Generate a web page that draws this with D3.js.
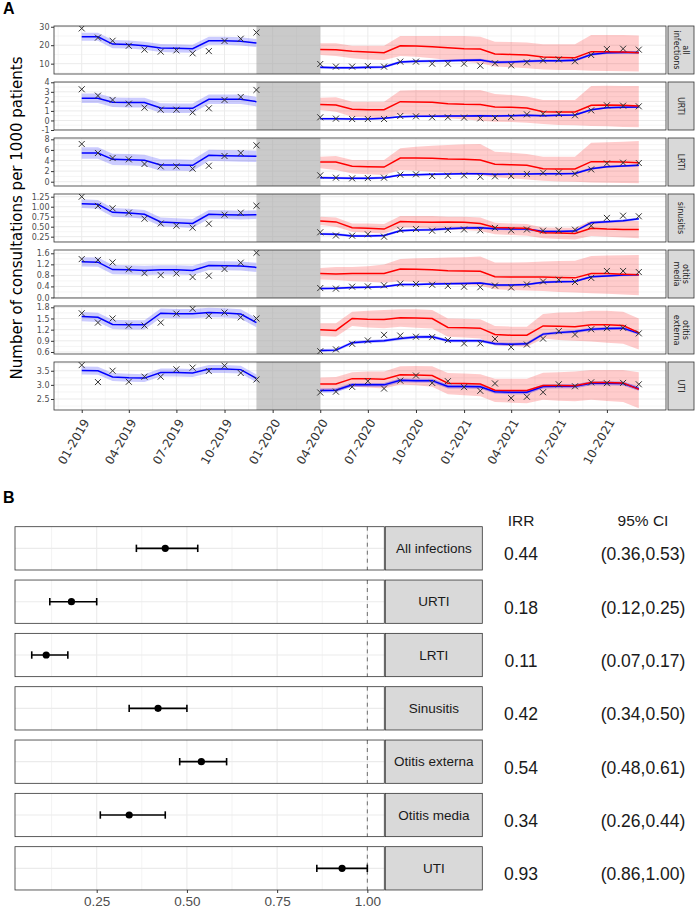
<!DOCTYPE html>
<html>
<head>
<meta charset="utf-8">
<script src="https://cdn.jsdelivr.net/npm/d3@7"></script>
<style>
  body { margin: 0; background: #fff; }
  svg { display: block; }
</style>
</head>
<body>
<div id="chart"></div>
<script>
// ---- panel A data ----
var panelNames = [["all", "infections"], ["URTI"], ["LRTI"], ["sinusitis"], ["otitis", "media"], ["otitis", "externa"], ["UTI"]];
var preStart = "2019-01", preEnd = "2019-12", postStart = "2020-04", postEnd = "2021-12";
var gapStart = "2019-12", gapEnd = "2020-04";

var yDomains = [[4.4, 30.4], [-1.0, 4.03], [-0.81, 8.25], [0.117, 1.318], [-0.02, 1.72], [0.546, 1.835], [2.11, 3.81]];
var yTicks = [[10, 20, 30], [-1, 0, 1, 2, 3, 4], [0, 2, 4, 6, 8], [0.25, 0.5, 0.75, 1, 1.25], [0, 0.4, 0.8, 1.2, 1.6], [0.6, 0.9, 1.2, 1.5, 1.8], [2.5, 3, 3.5]];
var yTickLabels = [["10", "20", "30"], ["-1", "0", "1", "2", "3", "4"], ["0", "2", "4", "6", "8"],
    ["0.25", "0.50", "0.75", "1.00", "1.25"], ["0.0", "0.4", "0.8", "1.2", "1.6"], ["0.6", "0.9", "1.2", "1.5", "1.8"], ["2.5", "3.0", "3.5"]];

var preObs = [
    [29.1, 24.1, 22.4, 19.7, 17.6, 16.5, 17.2, 15.6, 16.8, 22.3, 23.5, 26.9],
    [3.27, 2.6, 2.15, 1.76, 1.34, 1.13, 1.13, 0.85, 1.27, 2.15, 2.46, 3.2],
    [7.12, 5.42, 4.47, 4.22, 3.34, 2.9, 2.9, 2.46, 3.02, 4.85, 5.42, 6.87],
    [1.25, 1.02, 0.96, 0.85, 0.7, 0.58, 0.525, 0.475, 0.575, 0.8, 0.85, 1.025],
    [1.39, 1.36, 1.27, 1.02, 0.88, 0.81, 0.87, 0.74, 0.79, 1.03, 1.26, 1.62],
    [1.64, 1.39, 1.5, 1.31, 1.31, 1.39, 1.63, 1.76, 1.57, 1.66, 1.53, 1.5],
    [3.7, 3.1, 3.5, 3.11, 3.29, 3.29, 3.55, 3.61, 3.49, 3.68, 3.42, 3.19]
];
var preFit = [
    [24.6, 24.6, 20.6, 20.4, 19.7, 18.5, 18.3, 18.1, 22.4, 22.4, 22.1, 21.2],
    [2.32, 2.32, 1.9, 1.87, 1.87, 1.31, 1.27, 1.27, 2.22, 2.22, 2.22, 1.97],
    [5.42, 5.42, 4.22, 4.16, 4.03, 3.15, 3.15, 3.09, 4.98, 4.91, 4.85, 4.79],
    [1.075, 1.06, 0.86, 0.84, 0.81, 0.62, 0.6, 0.58, 0.81, 0.8, 0.79, 0.8],
    [1.29, 1.28, 1.01, 1.0, 0.98, 1.0, 1.0, 0.98, 1.16, 1.15, 1.14, 1.09],
    [1.55, 1.53, 1.34, 1.33, 1.33, 1.64, 1.63, 1.63, 1.66, 1.65, 1.62, 1.39],
    [3.51, 3.5, 3.28, 3.25, 3.24, 3.44, 3.44, 3.42, 3.56, 3.56, 3.54, 3.23]
];
var preBand = [2.2, 0.5, 1.07, 0.11, 0.165, 0.125, 0.14];

var postObs = [
    [9.8, 8.4, 8.4, 8.7, 8.4, 11.1, 11.1, 10.0, 10.0, 10.0, 8.9, 10.2, 9.1, 10.7, 11.8, 12.3, 11.3, 14.7, 17.9, 18.1, 17.6],
    [0.33, 0.19, 0.15, 0.15, 0.15, 0.47, 0.43, 0.33, 0.33, 0.3, 0.22, 0.26, 0.36, 0.64, 0.71, 0.68, 0.54, 1.06, 1.59, 1.55, 1.48],
    [1.2, 0.76, 0.63, 0.69, 0.76, 1.32, 1.39, 1.07, 1.13, 1.2, 0.94, 1.01, 1.07, 1.45, 1.7, 1.7, 1.51, 2.33, 3.46, 3.59, 3.53],
    [0.36, 0.28, 0.275, 0.31, 0.25, 0.42, 0.44, 0.4, 0.42, 0.43, 0.41, 0.47, 0.41, 0.43, 0.4, 0.41, 0.425, 0.525, 0.72, 0.775, 0.76],
    [0.34, 0.32, 0.39, 0.4, 0.44, 0.5, 0.49, 0.46, 0.42, 0.39, 0.37, 0.43, 0.36, 0.47, 0.58, 0.64, 0.56, 0.71, 0.96, 0.96, 0.92],
    [0.62, 0.67, 0.82, 0.91, 1.06, 1.04, 1.01, 1.0, 0.92, 0.83, 0.83, 0.95, 0.73, 0.8, 0.96, 1.16, 1.07, 1.21, 1.24, 1.25, 1.1],
    [2.73, 2.76, 2.93, 3.13, 2.87, 3.15, 3.33, 3.07, 3.13, 2.92, 2.79, 3.05, 2.53, 2.58, 2.74, 3.02, 2.95, 3.09, 3.06, 3.07, 3.02]
];
var postFit = [
    [8.0, 7.8, 7.8, 8.0, 8.2, 10.9, 11.3, 11.4, 11.6, 11.8, 12.0, 10.7, 10.9, 11.3, 11.6, 11.6, 11.8, 15.0, 15.9, 16.1, 16.1],
    [0.19, 0.19, 0.15, 0.15, 0.22, 0.4, 0.43, 0.43, 0.47, 0.47, 0.5, 0.47, 0.5, 0.54, 0.5, 0.54, 0.57, 1.13, 1.34, 1.38, 1.41],
    [0.76, 0.69, 0.63, 0.63, 0.76, 1.26, 1.32, 1.39, 1.45, 1.51, 1.51, 1.39, 1.45, 1.45, 1.51, 1.51, 1.57, 2.46, 2.83, 2.96, 3.09],
    [0.32, 0.31, 0.27, 0.27, 0.28, 0.4, 0.42, 0.425, 0.45, 0.47, 0.475, 0.45, 0.44, 0.44, 0.38, 0.38, 0.39, 0.6, 0.625, 0.65, 0.7],
    [0.32, 0.33, 0.36, 0.37, 0.39, 0.47, 0.47, 0.49, 0.5, 0.51, 0.52, 0.45, 0.45, 0.47, 0.55, 0.57, 0.58, 0.75, 0.78, 0.81, 0.82],
    [0.64, 0.65, 0.85, 0.88, 0.9, 0.96, 1.0, 1.01, 0.9, 0.9, 0.9, 0.82, 0.81, 0.82, 1.08, 1.12, 1.15, 1.21, 1.23, 1.24, 1.1],
    [2.8, 2.81, 3.0, 3.0, 3.0, 3.16, 3.15, 3.15, 2.94, 2.94, 2.93, 2.76, 2.74, 2.74, 2.94, 2.95, 2.95, 3.06, 3.06, 3.05, 2.86]
];
var postBand = [0.7, 0.1, 0.2, 0.03, 0.04, 0.04, 0.07];

var cfFit = [
    [17.7, 17.6, 16.7, 16.3, 15.9, 19.7, 19.5, 19.2, 18.6, 18.1, 17.9, 15.2, 15.0, 14.7, 13.6, 13.4, 13.2, 16.5, 16.5, 16.3, 15.9],
    [1.66, 1.62, 1.17, 1.13, 1.13, 1.97, 1.94, 1.9, 1.76, 1.69, 1.66, 1.41, 1.38, 1.31, 0.92, 0.89, 0.89, 1.59, 1.62, 1.59, 1.52],
    [3.72, 3.72, 2.9, 2.83, 2.77, 4.47, 4.47, 4.41, 4.28, 4.22, 4.09, 3.28, 3.21, 3.09, 2.46, 2.39, 2.39, 3.78, 3.78, 3.72, 3.59],
    [0.64, 0.62, 0.475, 0.46, 0.44, 0.63, 0.62, 0.61, 0.62, 0.61, 0.58, 0.48, 0.47, 0.46, 0.35, 0.34, 0.33, 0.46, 0.44, 0.43, 0.43],
    [0.87, 0.85, 0.87, 0.87, 0.87, 1.03, 1.02, 1.0, 0.97, 0.96, 0.95, 0.75, 0.74, 0.74, 0.74, 0.72, 0.71, 0.87, 0.87, 0.84, 0.82],
    [1.2, 1.18, 1.5, 1.48, 1.47, 1.52, 1.51, 1.5, 1.26, 1.25, 1.24, 1.07, 1.05, 1.05, 1.3, 1.29, 1.28, 1.33, 1.33, 1.31, 1.12],
    [3.03, 3.03, 3.22, 3.22, 3.2, 3.36, 3.35, 3.33, 3.06, 3.05, 3.03, 2.81, 2.8, 2.8, 2.98, 2.98, 2.97, 3.08, 3.08, 3.07, 2.84]
];
var cfHi = [
    [21.0, 21.0, 19.7, 19.7, 19.7, 25.0, 25.0, 25.0, 25.0, 25.0, 24.6, 21.9, 21.7, 21.4, 20.5, 20.5, 20.5, 25.5, 25.5, 25.5, 25.3],
    [2.39, 2.43, 1.97, 1.97, 1.97, 3.13, 3.2, 3.2, 3.2, 3.2, 3.2, 2.78, 2.67, 2.5, 2.15, 2.15, 2.15, 3.62, 3.65, 3.62, 3.62],
    [4.72, 4.85, 4.09, 4.09, 4.09, 6.3, 6.61, 6.8, 6.93, 7.06, 7.12, 5.67, 5.48, 5.23, 4.72, 4.72, 4.72, 7.37, 7.43, 7.56, 7.69],
    [0.75, 0.73, 0.58, 0.58, 0.57, 0.77, 0.77, 0.77, 0.75, 0.75, 0.73, 0.6, 0.58, 0.57, 0.48, 0.475, 0.475, 0.65, 0.65, 0.65, 0.64],
    [1.07, 1.1, 1.1, 1.13, 1.19, 1.39, 1.42, 1.43, 1.45, 1.46, 1.48, 1.27, 1.27, 1.28, 1.3, 1.32, 1.33, 1.5, 1.52, 1.53, 1.54],
    [1.37, 1.37, 1.68, 1.71, 1.73, 1.75, 1.75, 1.73, 1.5, 1.49, 1.48, 1.3, 1.28, 1.28, 1.62, 1.66, 1.67, 1.71, 1.71, 1.68, 1.5],
    [3.26, 3.28, 3.45, 3.47, 3.47, 3.66, 3.67, 3.66, 3.42, 3.4, 3.38, 3.22, 3.22, 3.22, 3.43, 3.45, 3.47, 3.53, 3.53, 3.53, 3.45]
];
var cfLo = [
    [14.7, 14.1, 12.9, 12.3, 12.0, 14.1, 13.8, 12.9, 12.0, 11.1, 10.2, 8.4, 8.0, 7.5, 6.9, 6.6, 6.6, 6.2, 6.0, 5.9, 5.7],
    [1.1, 0.92, 0.4, 0.29, 0.22, 0.64, 0.57, 0.4, 0.22, 0.12, -0.02, -0.13, -0.16, -0.23, -0.37, -0.48, -0.51, -0.58, -0.62, -0.69, -0.72],
    [2.52, 2.2, 1.57, 1.39, 1.26, 2.2, 2.08, 1.89, 1.7, 1.45, 1.26, 0.82, 0.63, 0.44, 0.19, 0.06, 0.0, -0.13, -0.19, -0.25, -0.31],
    [0.54, 0.5, 0.375, 0.35, 0.33, 0.48, 0.475, 0.45, 0.43, 0.42, 0.39, 0.31, 0.29, 0.275, 0.21, 0.19, 0.18, 0.27, 0.25, 0.23, 0.21],
    [0.65, 0.63, 0.59, 0.57, 0.53, 0.59, 0.56, 0.52, 0.49, 0.45, 0.42, 0.3, 0.27, 0.25, 0.23, 0.2, 0.18, 0.15, 0.13, 0.11, 0.08],
    [1.03, 1.01, 1.3, 1.26, 1.24, 1.28, 1.25, 1.23, 1.01, 0.99, 0.96, 0.78, 0.76, 0.74, 0.96, 0.92, 0.9, 0.88, 0.85, 0.82, 0.67],
    [2.81, 2.78, 2.93, 2.91, 2.87, 3.01, 2.99, 2.93, 2.67, 2.63, 2.6, 2.39, 2.37, 2.35, 2.47, 2.44, 2.42, 2.47, 2.43, 2.39, 2.17]
];

// ---- panel B data ----
var irrNames = ["All infections", "URTI", "LRTI", "Sinusitis", "Otitis externa", "Otitis media", "UTI"];
var irr = [0.44, 0.18, 0.11, 0.42, 0.54, 0.34, 0.93];
var irrLo = [0.36, 0.12, 0.07, 0.34, 0.48, 0.26, 0.86];
var irrHi = [0.53, 0.25, 0.17, 0.50, 0.61, 0.44, 1.00];
var irrTicks = [0.25, 0.5, 0.75, 1.0];

var W = 696, H = 911;
var svg = d3.select("#chart").append("svg").attr("width", W).attr("height", H);
svg.append("rect").attr("width", W).attr("height", H).attr("fill", "#fff");

var sansA = "DejaVu Sans, sans-serif";
var sansB = "Liberation Sans, Arial, sans-serif";
var gridCol = "#ebebeb", borderCol = "#333333";

var parseM = d3.timeParse("%Y-%m");
var preMonths = d3.timeMonth.range(parseM(preStart), d3.timeMonth.offset(parseM(preEnd), 1));
var postMonths = d3.timeMonth.range(parseM(postStart), d3.timeMonth.offset(parseM(postEnd), 1));

var plotL = 54, plotR = 666, pTop0 = 26, pH = 48, pStep = 56;
var x = d3.scaleTime().domain([new Date(2018, 10, 9), new Date(2022, 0, 22)]).range([plotL, plotR]);
var xTicks = d3.timeMonth.every(3).range(new Date(2019, 0, 1), new Date(2022, 0, 1));
var xMinor = [];
for (var i = 0; i < xTicks.length - 1; i++) {
    xMinor.push(new Date((+xTicks[i] + +xTicks[i + 1]) / 2));
}
xMinor.unshift(new Date(+xTicks[0] - (xMinor[0] - xTicks[0])));
xMinor.push(new Date(+xTicks[xTicks.length - 1] + (xTicks[1] - xMinor[0])));

function minorOf(ticks, dom) {
    var step = ticks[1] - ticks[0], out = [];
    for (var v = ticks[0] - step / 2; v <= dom[1]; v += step) {
        if (v >= dom[0]) out.push(v);
    }
    return out;
}

svg.append("text").attr("x", 3).attr("y", 14).text("A")
    .style("font-family", sansB).style("font-weight", "bold").style("font-size", "16px");

svg.append("text").attr("transform", "translate(22," + (pTop0 + (pStep * 6 + pH) / 2) + ") rotate(-90)")
    .attr("text-anchor", "middle").text("Number of consultations per 1000 patients")
    .style("font-family", sansA).style("font-size", "15px").attr("fill", "#000");

panelNames.forEach(function (name, p) {
    var top = pTop0 + p * pStep;
    var y = d3.scaleLinear().domain(yDomains[p]).range([top + pH, top]);
    var g = svg.append("g");

    g.append("clipPath").attr("id", "clipA" + p).append("rect")
        .attr("x", plotL).attr("y", top).attr("width", plotR - plotL).attr("height", pH);
    var c = g.append("g").attr("clip-path", "url(#clipA" + p + ")");

    // grid
    c.selectAll(".vmin").data(xMinor).enter().append("line")
        .attr("x1", function (d) { return x(d); }).attr("x2", function (d) { return x(d); })
        .attr("y1", top).attr("y2", top + pH).attr("stroke", gridCol).attr("stroke-width", 0.5);
    c.selectAll(".hmin").data(minorOf(yTicks[p], yDomains[p])).enter().append("line")
        .attr("x1", plotL).attr("x2", plotR)
        .attr("y1", function (d) { return y(d); }).attr("y2", function (d) { return y(d); })
        .attr("stroke", gridCol).attr("stroke-width", 0.5);
    c.selectAll(".vmaj").data(xTicks).enter().append("line")
        .attr("x1", function (d) { return x(d); }).attr("x2", function (d) { return x(d); })
        .attr("y1", top).attr("y2", top + pH).attr("stroke", gridCol).attr("stroke-width", 1);
    c.selectAll(".hmaj").data(yTicks[p]).enter().append("line")
        .attr("x1", plotL).attr("x2", plotR)
        .attr("y1", function (d) { return y(d); }).attr("y2", function (d) { return y(d); })
        .attr("stroke", gridCol).attr("stroke-width", 1);

    var band = d3.area().x(function (d) { return x(d.t); })
        .y0(function (d) { return y(d.lo); }).y1(function (d) { return y(d.hi); });
    var line = d3.line().x(function (d) { return x(d.t); }).y(function (d) { return y(d.v); });

    var cf = postMonths.map(function (t, i) { return {t: t, v: cfFit[p][i], lo: cfLo[p][i], hi: cfHi[p][i]}; });
    var pre = preMonths.map(function (t, i) { return {t: t, v: preFit[p][i], lo: preFit[p][i] - preBand[p], hi: preFit[p][i] + preBand[p], o: preObs[p][i]}; });
    var post = postMonths.map(function (t, i) { return {t: t, v: postFit[p][i], lo: postFit[p][i] - postBand[p], hi: postFit[p][i] + postBand[p], o: postObs[p][i]}; });

    c.append("path").datum(cf).attr("d", band).attr("fill", "#ff0000").attr("fill-opacity", 0.2);
    c.append("path").datum(pre).attr("d", band).attr("fill", "#0000ff").attr("fill-opacity", 0.2);
    c.append("path").datum(post).attr("d", band).attr("fill", "#0000ff").attr("fill-opacity", 0.3);

    c.append("rect").attr("x", x(parseM(gapStart))).attr("y", top)
        .attr("width", x(parseM(gapEnd)) - x(parseM(gapStart))).attr("height", pH)
        .attr("fill", "#a6a6a6").attr("fill-opacity", 0.6);

    c.append("path").datum(pre).attr("d", line).attr("fill", "none").attr("stroke", "#0000ff").attr("stroke-width", 1.5);
    c.append("path").datum(post).attr("d", line).attr("fill", "none").attr("stroke", "#0000ff").attr("stroke-width", 1.5);
    c.append("path").datum(cf).attr("d", line).attr("fill", "none").attr("stroke", "#ff0000").attr("stroke-width", 1.5);

    c.selectAll(".obs").data(pre.concat(post)).enter().append("path")
        .attr("transform", function (d) { return "translate(" + x(d.t) + "," + y(d.o) + ")"; })
        .attr("d", "M-3,-3L3,3M-3,3L3,-3").attr("stroke", "#333").attr("stroke-width", 1).attr("fill", "none");

    g.append("rect").attr("x", plotL).attr("y", top).attr("width", plotR - plotL).attr("height", pH)
        .attr("fill", "none").attr("stroke", borderCol).attr("stroke-width", 0.8);

    // strip
    g.append("rect").attr("x", 668).attr("y", top).attr("width", 26).attr("height", pH)
        .attr("fill", "#d9d9d9").attr("stroke", borderCol).attr("stroke-width", 0.8);
    var st = g.append("text").attr("transform", "translate(681," + (top + pH / 2) + ") rotate(90)")
        .attr("text-anchor", "middle").style("font-family", sansA).style("font-size", "8px").attr("fill", "#1a1a1a");
    name.forEach(function (s, k) {
        st.append("tspan").attr("x", 0).attr("y", (k - (name.length - 1) / 2) * 9 + 3).text(s);
    });

    // y axis
    var ya = g.append("g").attr("transform", "translate(" + plotL + ",0)")
        .call(d3.axisLeft(y).tickValues(yTicks[p]).tickSize(3)
            .tickFormat(function (d, i) { return yTickLabels[p][i]; }));
    ya.select(".domain").remove();
    ya.selectAll(".tick line").attr("stroke", borderCol);
    ya.selectAll("text").attr("fill", "#4d4d4d").style("font-family", sansA).style("font-size", "8px").attr("x", -4.5);

    if (p === panelNames.length - 1) {
        var xa = g.append("g").attr("transform", "translate(0," + (top + pH) + ")")
            .call(d3.axisBottom(x).tickValues(xTicks).tickSize(3).tickFormat(d3.timeFormat("%m-%Y")));
        xa.select(".domain").remove();
        xa.selectAll(".tick line").attr("stroke", borderCol);
        xa.selectAll("text").attr("fill", "#333").style("font-family", sansA).style("font-size", "12px")
            .attr("text-anchor", "end").attr("dy", "0.35em").attr("y", 0)
            .attr("transform", "translate(4,10) rotate(-60)");
    }
});

// ---- panel B ----
svg.append("text").attr("x", 3).attr("y", 503).text("B")
    .style("font-family", sansB).style("font-weight", "bold").style("font-size", "16px");

var bL = 15, bR = 384.3, bTop0 = 526.7, bH = 43.3, bStep = 53.33;
var bx = d3.scaleLinear().domain([0.0236, 1.047]).range([bL, bR]);
var bMinor = minorOf(irrTicks, bx.domain());

svg.append("text").attr("x", 521).attr("y", 526).attr("text-anchor", "middle").text("IRR")
    .style("font-family", sansB).style("font-size", "15.5px").attr("fill", "#1a1a1a");
svg.append("text").attr("x", 643).attr("y", 526).attr("text-anchor", "middle").text("95% CI")
    .style("font-family", sansB).style("font-size", "15.5px").attr("fill", "#1a1a1a");

irrNames.forEach(function (name, k) {
    var top = bTop0 + k * bStep, cy = top + bH / 2;
    var g = svg.append("g");
    g.append("rect").attr("x", bL).attr("y", top).attr("width", bR - bL).attr("height", bH).attr("fill", "#fff");
    g.selectAll(".vmin").data(bMinor).enter().append("line")
        .attr("x1", function (d) { return bx(d); }).attr("x2", function (d) { return bx(d); })
        .attr("y1", top).attr("y2", top + bH).attr("stroke", gridCol).attr("stroke-width", 0.6);
    g.selectAll(".vmaj").data(irrTicks).enter().append("line")
        .attr("x1", function (d) { return bx(d); }).attr("x2", function (d) { return bx(d); })
        .attr("y1", top).attr("y2", top + bH).attr("stroke", gridCol).attr("stroke-width", 1.1);
    g.append("line").attr("x1", bL).attr("x2", bR).attr("y1", cy).attr("y2", cy)
        .attr("stroke", gridCol).attr("stroke-width", 1.1);

    g.append("line").attr("x1", bx(1)).attr("x2", bx(1)).attr("y1", top).attr("y2", top + bH)
        .attr("stroke", "#6e6e6e").attr("stroke-width", 1).attr("stroke-dasharray", "4,4");

    g.append("line").attr("x1", bx(irrLo[k])).attr("x2", bx(irrHi[k])).attr("y1", cy).attr("y2", cy)
        .attr("stroke", "#000").attr("stroke-width", 1.6);
    [irrLo[k], irrHi[k]].forEach(function (v) {
        g.append("line").attr("x1", bx(v)).attr("x2", bx(v)).attr("y1", cy - 3.7).attr("y2", cy + 3.7)
            .attr("stroke", "#000").attr("stroke-width", 1.6);
    });
    g.append("circle").attr("cx", bx(irr[k])).attr("cy", cy).attr("r", 3.6).attr("fill", "#000");

    g.append("rect").attr("x", bL).attr("y", top).attr("width", bR - bL).attr("height", bH)
        .attr("fill", "none").attr("stroke", borderCol).attr("stroke-width", 0.8);
    g.append("rect").attr("x", bR + 1).attr("y", top).attr("width", 97).attr("height", bH)
        .attr("fill", "#d9d9d9").attr("stroke", borderCol).attr("stroke-width", 0.8);
    g.append("text").attr("x", bR + 1 + 48.5).attr("y", cy + 4.8).attr("text-anchor", "middle").text(name)
        .style("font-family", sansB).style("font-size", "13.5px").attr("fill", "#1a1a1a");

    g.append("text").attr("x", 521).attr("y", cy + 12).attr("text-anchor", "middle").text(irr[k].toFixed(2))
        .style("font-family", sansB).style("font-size", "17.5px").attr("fill", "#1a1a1a");
    g.append("text").attr("x", 643).attr("y", cy + 12).attr("text-anchor", "middle")
        .text("(" + irrLo[k].toFixed(2) + "," + irrHi[k].toFixed(2) + ")")
        .style("font-family", sansB).style("font-size", "17.5px").attr("fill", "#1a1a1a");
});

var bAxis = svg.append("g").attr("transform", "translate(0," + (bTop0 + 6 * bStep + bH) + ")")
    .call(d3.axisBottom(bx).tickValues(irrTicks).tickSize(3).tickFormat(d3.format(".2f")));
bAxis.select(".domain").remove();
bAxis.selectAll(".tick line").attr("stroke", borderCol);
bAxis.selectAll("text").attr("fill", "#4d4d4d").style("font-family", sansB).style("font-size", "13.5px").attr("y", 6);
</script>
</body>
</html>
